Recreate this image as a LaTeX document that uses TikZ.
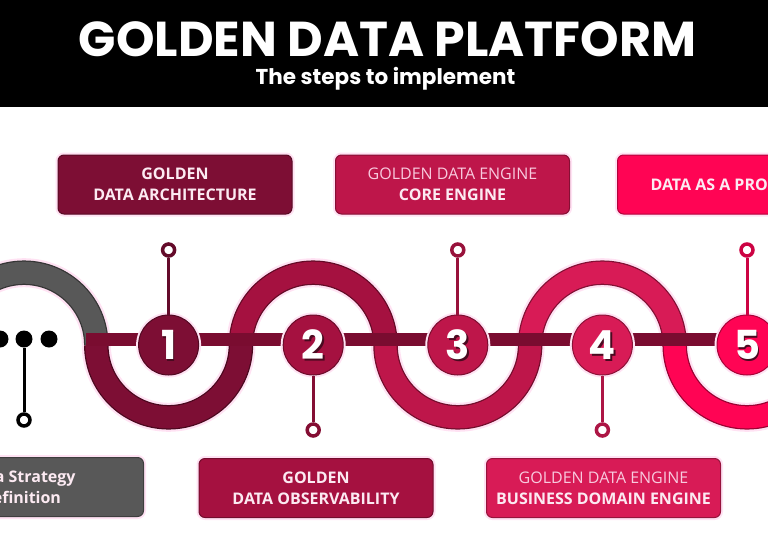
\documentclass[tikz,border=0pt]{standalone}
\usepackage{fontspec}
\usetikzlibrary{positioning,calc}
\newfontfamily\titlefont{Poppins}
\newfontfamily\boxfont{Open Sans}
\definecolor{StepGray}{RGB}{88,88,88}
\definecolor{StepOne}{RGB}{125,14,52}
\definecolor{StepTwo}{RGB}{165,17,64}
\definecolor{StepThree}{RGB}{190,22,74}
\definecolor{StepFour}{RGB}{216,27,86}
\definecolor{StepFive}{RGB}{255,4,84}
\definecolor{BarMaroon}{RGB}{122,12,48}
\definecolor{GlowPink}{RGB}{255,226,243}
\definecolor{BoxText}{RGB}{252,234,242}
\definecolor{SoftText}{RGB}{248,202,222}
\definecolor{NumShade}{RGB}{74,10,32}
\newcommand{\stepnum}[1]{\makebox[0pt][l]{\hspace{1.6pt}\smash{\raisebox{-1.6pt}{\color{NumShade}#1}}}#1}
\tikzset{
  titletext/.style={text=white,font=\titlefont\bfseries\fontsize{49}{49}\selectfont,inner sep=0pt},
  subtext/.style={text=white,font=\titlefont\bfseries\fontsize{21.5}{21.5}\selectfont,inner sep=0pt},
  stepbox/.style={rectangle,rounded corners=6pt,fill=#1,draw=#1!70!black,line width=1pt,
    minimum width=234pt,minimum height=59pt,align=center,text=BoxText,
    font=\boxfont\bfseries\fontsize{16}{21}\selectfont,
    preaction={draw=GlowPink,line width=5pt}},
  ring/.style={draw=#1,line width=22pt,
    preaction={draw=GlowPink,line width=29pt},
    preaction={draw=#1!60!black,line width=24.5pt}},
  stepdot/.style={circle,fill=#1,draw=#1!65!black,line width=1pt,minimum size=60pt,inner sep=0pt,
    text=white,font=\titlefont\bfseries\fontsize{40}{40}\selectfont,
    preaction={draw=GlowPink,line width=5pt}},
  pinring/.style={circle,draw=#1!80!black,line width=3.5pt,fill=white,minimum size=12pt,inner sep=0pt},
  pinline/.style={draw=#1!80!black,line width=3pt},
  blackdot/.style={circle,fill=black,minimum size=17pt,inner sep=0pt}
}
\begin{document}
\begin{tikzpicture}[x=1pt,y=1pt]
  \useasboundingbox (0,0) rectangle (768,-538);
  \clip (0,0) rectangle (768,-538);

  % header
  \fill[black] (0,0) rectangle (768,-107);
  \node[titletext] (title) at (387.5,-39.5) {GOLDEN DATA PLATFORM};
  \node[subtext] (subtitle) at (385.5,-79) {The steps to implement};

  % boxes
  \node[stepbox=StepOne] (arch) at (175,-184.5) {GOLDEN\\DATA ARCHITECTURE};
  \node[stepbox=StepThree] (core) at (452.5,-184.5) {{\mdseries\color{SoftText}GOLDEN DATA ENGINE}\\CORE ENGINE};
  \node[stepbox=StepFive,anchor=west,inner xsep=33pt,minimum width=0pt] (product) at (617,-184.5) {DATA AS A PRODUCT};
  \node[stepbox=StepGray,anchor=east,minimum width=245pt] (strategy) at (144,-487) {Data Strategy\\Definition};
  \node[stepbox=StepTwo] (observ) at (316,-488) {GOLDEN\\DATA OBSERVABILITY};
  \node[stepbox=StepFour] (business) at (603.5,-488) {{\mdseries\color{SoftText}GOLDEN DATA ENGINE}\\BUSINESS DOMAIN ENGINE};

  % winding track
  \draw[ring=StepGray] (-48.3,-345) arc[start angle=180,end angle=0,radius=72.3];
  \draw[ring=StepOne] (96.3,-345) arc[start angle=180,end angle=360,radius=72.3];
  \draw[ring=StepTwo] (240.9,-345) arc[start angle=180,end angle=0,radius=72.3];
  \draw[ring=StepThree] (385.5,-345) arc[start angle=180,end angle=360,radius=72.3];
  \draw[ring=StepFour] (530.1,-345) arc[start angle=180,end angle=0,radius=72.3];
  \draw[ring=StepFive] (674.7,-345) arc[start angle=180,end angle=360,radius=72.3];
  \draw[BarMaroon,line width=13pt] (86,-339.5) -- (780,-339.5);

  % steps
  \node[stepdot=StepOne] (s1) at (168.6,-345) {\stepnum{1}};
  \node[stepdot=StepTwo] (s2) at (313.2,-345) {\stepnum{2}};
  \node[stepdot=StepThree] (s3) at (457.8,-345) {\stepnum{3}};
  \node[stepdot=StepFour] (s4) at (602.4,-345) {\stepnum{4}};
  \node[stepdot=StepFive] (s5) at (747,-345) {\stepnum{5}};

  % pins
  \node[pinring=StepOne] (p1) at (168.6,-250) {};
  \node[pinring=StepTwo] (p2) at (313.2,-430) {};
  \node[pinring=StepThree] (p3) at (457.8,-250) {};
  \node[pinring=StepFour] (p4) at (602.4,-430) {};
  \node[pinring=StepFive] (p5) at (747,-250) {};
  \draw[pinline=StepOne] (s1) -- (p1);
  \draw[pinline=StepTwo] (s2) -- (p2);
  \draw[pinline=StepThree] (s3) -- (p3);
  \draw[pinline=StepFour] (s4) -- (p4);
  \draw[pinline=StepFive] (s5) -- (p5);

  % start
  \node[blackdot] (dotl) at (0,-339) {};
  \node[blackdot] (dotm) at (24,-339) {};
  \node[blackdot] (dotr) at (49,-339) {};
  \node[pinring=black] (p0) at (24,-420) {};
  \draw[pinline=black] (dotm) -- (p0);
\end{tikzpicture}
\end{document}
